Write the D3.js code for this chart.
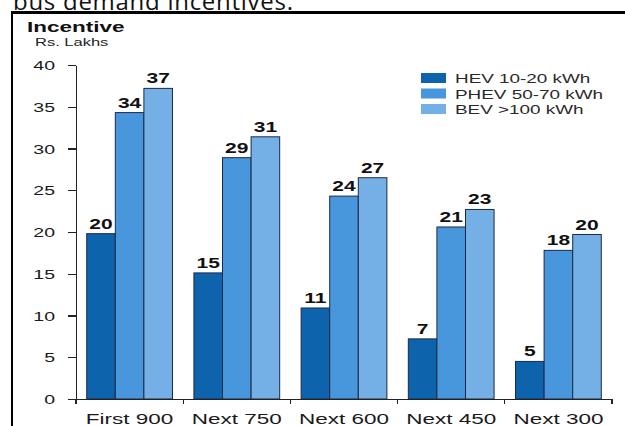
<!DOCTYPE html>
<meta charset="utf-8">
<style>
body { margin: 0; background: #fff; }
svg { display: block; }
.axis path, .axis line { stroke: #222; stroke-width: 1.3px; shape-rendering: crispEdges; }
.axis text { font: 13px Arial, "Liberation Sans", sans-serif; fill: #1a1a1a; }
.bar { stroke: #1b2a48; stroke-width: 1px; }
.value { font: bold 14px Arial, "Liberation Sans", sans-serif; fill: #111; }
.legend text { font: 12.6px Arial, "Liberation Sans", sans-serif; fill: #2a2a2a; }
</style>
<body>
<svg width="625" height="426"></svg>

<script src="https://cdn.jsdelivr.net/npm/d3@7"></script>
<script>

// chart data
let categories = ['First 900', 'Next 750', 'Next 600', 'Next 450', 'Next 300'];
let seriesNames = ['HEV 10-20 kWh', 'PHEV 50-70 kWh', 'BEV >100 kWh'];
let hev  = [19.8, 15.1, 10.9, 7.2, 4.5];
let phev = [34.3, 28.9, 24.3, 20.6, 17.8];
let bev  = [37.2, 31.4, 26.5, 22.7, 19.7];
let yTicks = [0, 5, 10, 15, 20, 25, 30, 35, 40];

let colors = ['#0e63ad', '#4896dc', '#74b0e6'];
let series = [hev, phev, bev];

// the source picture is stretched sideways, so text is too
let SX = 1.5;

let svg = d3.select('svg');

// caption above the frame, cut off by the top edge as in the source
svg.append('text')
  .attr('x', 13)
  .attr('y', 10)
  .attr('textLength', 280)
  .style('font', '24px "Open Sans", sans-serif')
  .style('fill', '#111')
  .text('bus demand incentives.');

// frame
svg.append('line')
  .attr('x1', 11).attr('x2', 625).attr('y1', 12.5).attr('y2', 12.5)
  .attr('stroke', '#000').attr('stroke-width', 3);
svg.append('line')
  .attr('x1', 12).attr('x2', 12).attr('y1', 11).attr('y2', 426)
  .attr('stroke', '#000').attr('stroke-width', 2);

let x = d3.scaleBand()
  .domain(categories)
  .range([76, 612])
  .paddingInner(0.2)
  .paddingOuter(0.1);

let x1 = d3.scaleBand()
  .domain(d3.range(series.length))
  .range([0, x.bandwidth()]);

let y = d3.scaleLinear()
  .domain([0, 40])
  .range([399, 65]);

function stretch(sel, dx, dy) {
  sel.attr('transform', `translate(${dx},${dy}) scale(${SX},1)`);
}

// titles
svg.append('text')
  .style('font', 'bold 15px Arial, "Liberation Sans", sans-serif')
  .style('fill', '#111')
  .text('Incentive')
  .call(stretch, 27, 32);
svg.append('text')
  .style('font', '11px Arial, "Liberation Sans", sans-serif')
  .style('fill', '#222')
  .text('Rs. Lakhs')
  .call(stretch, 35, 46);

// y axis
let yAxis = svg.append('g')
  .attr('class', 'axis')
  .attr('transform', 'translate(76,0)')
  .call(d3.axisLeft(y).tickValues(yTicks).tickSize(8).tickSizeOuter(0));
yAxis.selectAll('text')
  .attr('x', null)
  .attr('dy', '0.36em')
  .attr('text-anchor', 'end')
  .call(stretch, -21, 0);

// bars
let groups = svg.append('g')
  .selectAll('g')
  .data(categories)
  .join('g')
  .attr('transform', d => `translate(${x(d)},0)`);

groups.selectAll('rect')
  .data((d, i) => series.map((s, k) => ({ k: k, v: s[i] })))
  .join('rect')
  .attr('class', 'bar')
  .attr('x', d => x1(d.k))
  .attr('width', x1.bandwidth())
  .attr('y', d => y(d.v))
  .attr('height', d => y(0) - y(d.v))
  .attr('fill', d => colors[d.k]);

groups.selectAll('text')
  .data((d, i) => series.map((s, k) => ({ k: k, v: s[i] })))
  .join('text')
  .attr('class', 'value')
  .attr('text-anchor', 'middle')
  .text(d => Math.round(d.v))
  .each(function(d) {
    d3.select(this).call(stretch, x1(d.k) + x1.bandwidth() / 2, y(d.v) - 5);
  });

// x axis
let xAxis = svg.append('g')
  .attr('class', 'axis')
  .attr('transform', `translate(0,${y(0)})`)
  .call(d3.axisBottom(x).tickSize(0).tickSizeOuter(0));
xAxis.selectAll('text')
  .attr('y', null)
  .attr('dy', null)
  .style('font-size', '15px')
  .call(stretch, 0, 25);

let bounds = categories.map(c => x(c) - x.step() * x.paddingInner() / 2)
  .concat([x.range()[1]]);
xAxis.selectAll('line.sep')
  .data(bounds)
  .join('line')
  .attr('class', 'sep')
  .attr('x1', d => d).attr('x2', d => d)
  .attr('y1', 0).attr('y2', 5);

// legend
let legend = svg.append('g')
  .attr('class', 'legend')
  .attr('transform', 'translate(421,73)');

let item = legend.selectAll('g')
  .data(seriesNames)
  .join('g')
  .attr('transform', (d, i) => `translate(0,${i * 15.5})`);

item.append('rect')
  .attr('width', 25)
  .attr('height', 10)
  .attr('fill', (d, i) => colors[i]);

item.append('text')
  .text(d => d)
  .call(stretch, 34, 10);

</script>
</body>
